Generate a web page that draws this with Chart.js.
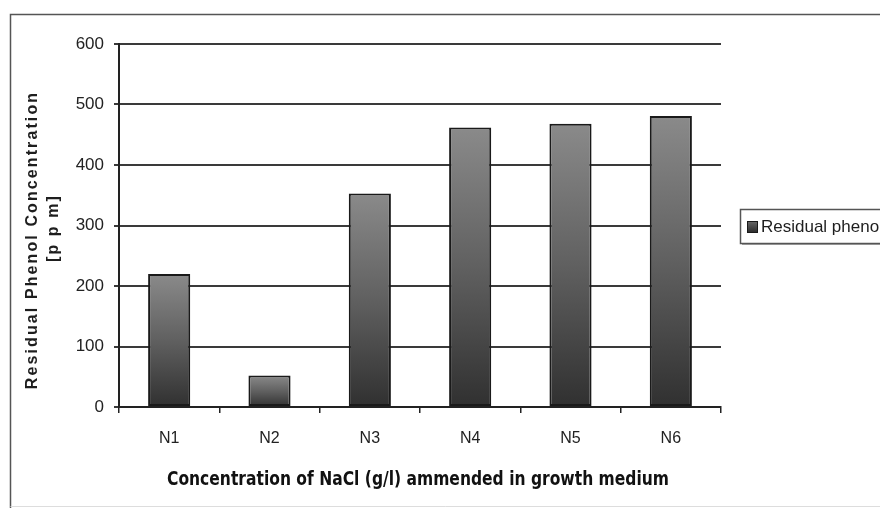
<!DOCTYPE html>
<html>
<head>
<meta charset="utf-8">
<script src="https://cdn.jsdelivr.net/npm/chart.js@4.4.1/dist/chart.umd.min.js"></script>
<style>
  html, body { margin: 0; padding: 0; background: #ffffff; overflow: hidden; }
  #wrap { position: relative; width: 880px; height: 508px; }
</style>
</head>
<body>
<div id="wrap"><canvas id="c" width="880" height="508"></canvas></div>
<script>
// Residual phenol left in the growth medium for each NaCl level
const categories = ['N1', 'N2', 'N3', 'N4', 'N5', 'N6'];
const residualPhenol = [220, 52, 353, 462, 468, 481];
const yTicks = [0, 100, 200, 300, 400, 500, 600];
const seriesLabel = 'Residual phenol';
const yTitle = ['Residual Phenol Concentration', '[p p m]'];
const xTitle = 'Concentration of NaCl (g/l) ammended in growth medium';

// Vertical gray gradient for each bar, from its top down to the baseline
function barFill(ctx) {
  if (ctx.type !== 'data') return '#555555';
  const chart = ctx.chart;
  const y = chart.scales && chart.scales.y;
  if (!y || y.top === undefined) return '#555555';
  const top = y.getPixelForValue(ctx.raw);
  const base = y.getPixelForValue(0);
  if (!isFinite(top) || !isFinite(base) || top === base) return '#555555';
  const g = chart.ctx.createLinearGradient(0, top, 0, base);
  g.addColorStop(0, '#8a8a8a');
  g.addColorStop(0.5, '#606060');
  g.addColorStop(1, '#303030');
  return g;
}

// Frame, axis titles and legend box
const decorations = {
  id: 'decorations',
  afterDraw(chart) {
    const c = chart.ctx;
    c.save();

    // outer frame
    c.strokeStyle = '#555555';
    c.lineWidth = 1.5;
    c.beginPath();
    c.moveTo(10.5, 508);
    c.lineTo(10.5, 14.5);
    c.lineTo(880, 14.5);
    c.stroke();
    c.strokeStyle = '#dddddd';
    c.lineWidth = 1;
    c.beginPath();
    c.moveTo(10.5, 506.5);
    c.lineTo(880, 506.5);
    c.stroke();

    // y axis title (two lines, rotated)
    c.fillStyle = '#1e1e1e';
    c.font = 'bold 16px "Liberation Sans", Arial, sans-serif';
    c.textAlign = 'center';
    c.textBaseline = 'middle';
    c.letterSpacing = '2.1px';
    c.save();
    c.translate(33, 240);
    c.rotate(-Math.PI / 2);
    c.fillText(yTitle[0], 0, 0);
    c.restore();
    c.save();
    c.translate(54, 228);
    c.rotate(-Math.PI / 2);
    c.fillText(yTitle[1], 0, 0);
    c.restore();
    c.letterSpacing = '0px';

    // x axis title, condensed heavy face
    c.save();
    c.font = 'bold 19px "DejaVu Sans", Verdana, sans-serif';
    const w = c.measureText(xTitle).width;
    const target = 502;
    c.translate(418, 480);
    c.scale(target / w, 1);
    c.fillStyle = '#111111';
    c.textAlign = 'center';
    c.textBaseline = 'middle';
    c.fillText(xTitle, 0, 0);
    c.restore();

    // legend box with a soft shadow
    const lx = 740, ly = 209, lw = 150, lh = 34;
    c.fillStyle = 'rgba(0,0,0,0.35)';
    c.fillRect(lx + 2, ly + 2, lw, lh);
    c.fillStyle = '#ffffff';
    c.fillRect(lx, ly, lw, lh);
    c.strokeStyle = '#555555';
    c.lineWidth = 1.5;
    c.strokeRect(lx + 0.5, ly + 0.5, lw, lh);
    const mg = c.createLinearGradient(0, ly + 12, 0, ly + 23);
    mg.addColorStop(0, '#6a6a6a');
    mg.addColorStop(1, '#2e2e2e');
    c.fillStyle = mg;
    c.fillRect(747, ly + 12, 10, 11);
    c.strokeStyle = '#1a1a1a';
    c.lineWidth = 1;
    c.strokeRect(747.5, ly + 12.5, 10, 11);
    c.fillStyle = '#1e1e1e';
    c.font = '17px "Liberation Sans", Arial, sans-serif';
    c.textAlign = 'left';
    c.textBaseline = 'middle';
    c.fillText(chart.data.datasets[0].label, 761, ly + 18);

    c.restore();
  }
};

new Chart(document.getElementById('c'), {
  type: 'bar',
  data: {
    labels: categories,
    datasets: [{
      label: seriesLabel,
      data: residualPhenol,
      backgroundColor: barFill,
      borderColor: '#1a1a1a',
      borderWidth: 2,
      borderSkipped: false,
      barPercentage: 0.42,
      categoryPercentage: 1.0
    }]
  },
  options: {
    responsive: false,
    animation: false,
    devicePixelRatio: 1,
    layout: { padding: { left: 0, top: 44, right: 159, bottom: 0 } },
    plugins: {
      legend: { display: false },
      tooltip: { enabled: false },
      title: { display: false }
    },
    scales: {
      x: {
        offset: true,
        grid: {
          display: true,
          offset: true,
          drawOnChartArea: false,
          drawTicks: true,
          tickLength: 6,
          color: '#222222',
          lineWidth: 1.5
        },
        border: { display: true, color: '#222222', width: 2 },
        ticks: {
          color: '#222222',
          font: { family: '"Liberation Sans", Arial, sans-serif', size: 16 },
          padding: 16,
          maxRotation: 0
        },
        afterFit(scale) { scale.height = 101; }
      },
      y: {
        min: 0,
        max: 600,
        afterBuildTicks(scale) { scale.ticks = yTicks.map(v => ({ value: v })); },
        grid: {
          color: '#3a3a3a',
          lineWidth: 2,
          drawTicks: true,
          tickLength: 5
        },
        border: { display: true, color: '#222222', width: 2 },
        ticks: {
          color: '#222222',
          font: { family: '"Liberation Sans", Arial, sans-serif', size: 17 },
          padding: 10
        },
        afterFit(scale) { scale.width = 119; }
      }
    }
  },
  plugins: [decorations]
});
</script>
</body>
</html>
